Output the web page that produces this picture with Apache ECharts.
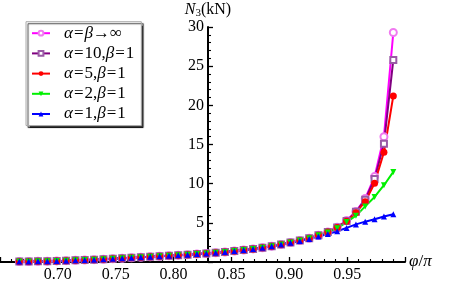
<!DOCTYPE html>
<html>
<head>
<meta charset="utf-8">
<script src="https://cdn.jsdelivr.net/npm/echarts@6/dist/echarts.min.js"></script>
<style>html,body{margin:0;padding:0;background:#fff}#c{width:463px;height:287px}</style>
</head>
<body>
<div id="c"></div>
<script>
// phi / pi values of the sample points
const phi = [0.6667,0.6748,0.6828,0.6909,0.6990,0.7071,0.7152,0.7232,0.7313,0.7394,
  0.7475,0.7556,0.7636,0.7717,0.7798,0.7879,0.7960,0.8040,0.8121,0.8202,
  0.8283,0.8364,0.8444,0.8525,0.8606,0.8687,0.8768,0.8848,0.8929,0.9010,
  0.9091,0.9172,0.9252,0.9333,0.9414,0.9495,0.9576,0.9656,0.9737,0.9818,0.9899];
// N3 (kN) series
const nInf = [0.05,0.07,0.09,0.11,0.14,0.17,0.21,0.25,0.30,0.35,0.41,0.47,0.53,0.60,0.66,0.73,0.80,0.87,0.94,1.01,
  1.09,1.18,1.28,1.40,1.53,1.67,1.82,2.02,2.25,2.48,2.73,3.03,3.42,3.82,4.45,5.30,6.45,8.10,10.9,16.0,29.3];
const n10 = [0.05,0.07,0.09,0.11,0.14,0.17,0.21,0.25,0.30,0.35,0.41,0.47,0.53,0.60,0.66,0.73,0.80,0.87,0.94,1.01,
  1.09,1.18,1.28,1.40,1.53,1.67,1.82,2.02,2.25,2.48,2.73,3.03,3.42,3.82,4.42,5.25,6.40,7.95,10.6,15.1,25.8];
const n5 = [0.05,0.07,0.09,0.11,0.14,0.17,0.21,0.25,0.30,0.35,0.41,0.47,0.53,0.60,0.66,0.73,0.80,0.87,0.94,1.01,
  1.09,1.18,1.28,1.40,1.53,1.67,1.82,2.02,2.25,2.48,2.73,3.03,3.42,3.82,4.40,5.20,6.30,7.70,10.05,14.0,21.2];
const n2 = [0.05,0.07,0.09,0.11,0.14,0.17,0.21,0.25,0.30,0.35,0.41,0.47,0.53,0.60,0.66,0.73,0.80,0.87,0.94,1.01,
  1.09,1.18,1.28,1.40,1.53,1.67,1.82,2.02,2.25,2.48,2.73,3.03,3.40,3.78,4.30,5.10,5.90,7.10,8.30,9.80,11.5];
const n1 = [0.05,0.07,0.09,0.11,0.14,0.17,0.21,0.25,0.30,0.35,0.41,0.47,0.53,0.60,0.66,0.73,0.80,0.87,0.94,1.01,
  1.09,1.18,1.28,1.40,1.53,1.67,1.82,2.02,2.22,2.45,2.68,2.95,3.25,3.58,3.92,4.35,4.80,5.15,5.45,5.80,6.10];
const seriesNames = ['α=β→∞','α=10,β=1','α=5,β=1','α=2,β=1','α=1,β=1'];

const FONT = 'Liberation Serif';
const pair = arr => arr.map((v, i) => [phi[i], v]);
const xMin = 0.65, xMax = 1.0, yMin = 0, yMax = 30;
const pxPerX = 1180;                  // pixels per unit of phi/pi
const gridLeft = 51 - (0.70 - xMin) * pxPerX;
const gridRight = 463 - (51 + (xMax - 0.70) * pxPerX);
const yAxisPx = 208;                  // vertical axis crosses at phi/pi = 5/6
const gTop = 27, gBottom = 25;

const chart = echarts.init(document.getElementById('c'), null, {renderer: 'canvas'});
const italic = {fontFamily:FONT, fontStyle:'italic', color:'#000'};
chart.setOption({
  animation:false,
  backgroundColor:'#fff',
  grid:[
    {left:gridLeft, right:gridRight, top:gTop, bottom:gBottom, containLabel:false},
    {left:yAxisPx, width:10, top:gTop, bottom:gBottom, containLabel:false}
  ],
  legend:{
    left:26, top:21.7, orient:'vertical',
    padding:[3,7,3,5], itemWidth:18, itemHeight:6, itemGap:3.2,
    borderColor:'#aaa', borderWidth:1, backgroundColor:'#fff',
    shadowColor:'rgba(0,0,0,0.75)', shadowOffsetX:2, shadowOffsetY:2, shadowBlur:1,
    data:seriesNames,
    formatter: n => n.replace(/α/g,'{i|α}').replace(/β/g,'{i|β}').replace(/=/g,'{e|=}'),
    textStyle:{fontFamily:FONT, fontSize:17, color:'#000', lineHeight:17, padding:[0,0,0,9],
      rich:{
        i:Object.assign({fontSize:17}, italic),
        e:{fontFamily:FONT, fontSize:17, color:'#000', padding:[0,1,0,1]}
      }}
  },
  xAxis:[
    {type:'value', gridIndex:0, min:xMin, max:xMax, interval:0.05, position:'bottom',
      name:'{i|φ}/{i|π}', nameLocation:'end', nameGap:4,
      nameTextStyle:{fontFamily:FONT, fontSize:17, color:'#000', rich:{i:Object.assign({fontSize:17}, italic)}},
      axisLine:{show:true, onZero:false, lineStyle:{color:'#000', width:2}},
      axisTick:{show:true, inside:true, length:5, lineStyle:{color:'#000', width:1.3}},
      minorTick:{show:true, splitNumber:5, length:3, lineStyle:{color:'#000', width:1.1}},
      splitLine:{show:false}, minorSplitLine:{show:false},
      axisLabel:{fontFamily:FONT, fontSize:16, color:'#000', margin:5, showMinLabel:false, showMaxLabel:false,
        formatter: v => v.toFixed(2)}},
    {type:'value', gridIndex:1, min:0, max:1, show:false}
  ],
  yAxis:[
    {type:'value', gridIndex:0, min:yMin, max:yMax, show:false},
    {type:'value', gridIndex:1, min:yMin, max:yMax, interval:5, position:'left',
      name:'{n|N}{s|3}{u|(kN)}', nameLocation:'end', nameGap:6,
      nameTextStyle:{fontFamily:FONT, fontSize:16, color:'#000', rich:{
        n:Object.assign({fontSize:16}, italic),
        s:{fontFamily:FONT, fontSize:11, color:'#000', padding:[8,0,0,0]},
        u:{fontFamily:FONT, fontSize:16, color:'#000'}}},
      axisLine:{show:true, onZero:false, lineStyle:{color:'#000', width:2}},
      axisTick:{show:true, inside:true, length:5, lineStyle:{color:'#000', width:1.3}},
      minorTick:{show:true, splitNumber:5, length:3, lineStyle:{color:'#000', width:1.1}},
      splitLine:{show:false}, minorSplitLine:{show:false},
      axisLabel:{fontFamily:FONT, fontSize:16, color:'#000', margin:4, showMinLabel:false}}
  ],
  series:[
    {name:seriesNames[0], type:'line', xAxisIndex:0, yAxisIndex:0, data:pair(nInf), symbol:'emptyCircle', symbolSize:7,
      lineStyle:{color:'#ff00ff', width:2}, itemStyle:{color:'#f07af0', borderColor:'#f07af0', borderWidth:1}},
    {name:seriesNames[1], type:'line', xAxisIndex:0, yAxisIndex:0, data:pair(n10), symbol:'emptyRect', symbolSize:6,
      lineStyle:{color:'#800080', width:2}, itemStyle:{color:'#9a5aa6', borderColor:'#9a5aa6', borderWidth:1}},
    {name:seriesNames[2], type:'line', xAxisIndex:0, yAxisIndex:0, data:pair(n5), symbol:'circle', symbolSize:7,
      lineStyle:{color:'#ff0000', width:2}, itemStyle:{color:'#ff0000'}},
    {name:seriesNames[3], type:'line', xAxisIndex:0, yAxisIndex:0, data:pair(n2), symbol:'triangle', symbolRotate:180, symbolSize:6,
      lineStyle:{color:'#00f000', width:2}, itemStyle:{color:'#00f000'}},
    {name:seriesNames[4], type:'line', xAxisIndex:0, yAxisIndex:0, data:pair(n1), symbol:'triangle', symbolSize:6,
      lineStyle:{color:'#0000ff', width:2}, itemStyle:{color:'#0000ff'}}
  ]
});
</script>
</body>
</html>
